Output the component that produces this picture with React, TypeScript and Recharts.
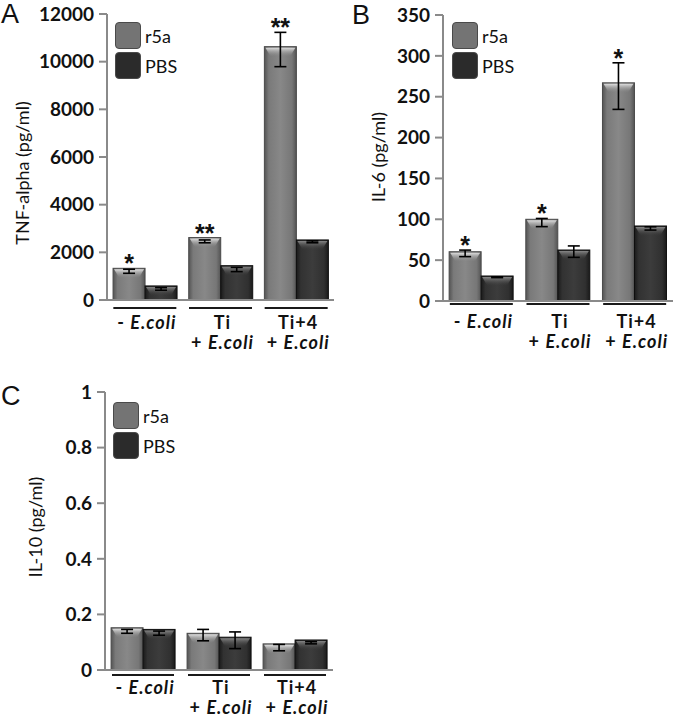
import React from 'react';
import { BarChart, Bar, XAxis, YAxis, ErrorBar, LabelList, Legend } from 'recharts';

/* ── Data ────────────────────────────────────────────────────────────────── */
const CATEGORIES = ['- E.coli', 'Ti\n+ E.coli', 'Ti+4\n+ E.coli'];
const SERIES_NAMES = ['r5a', 'PBS'];

// A: TNF-alpha (pg/ml)
const TNF_R5A = [1330, 2620, 10630];
const TNF_R5A_ERR = [[210, -40], [220, -100], [840, 600]];
const TNF_PBS = [590, 1440, 2520];
const TNF_PBS_ERR = [[180, -70], [250, -70], [120, -40]];
const TNF_SIG = ['*', '**', '**'];
const TNF_TICKS = [0, 2000, 4000, 6000, 8000, 10000, 12000];

// B: IL-6 (pg/ml)
const IL6_R5A = [60.3, 100, 267];
const IL6_R5A_ERR = [[6, 2], [9, 1], [32.5, 24.5]];
const IL6_PBS = [30.6, 62.4, 91.8];
const IL6_PBS_ERR = [[2, -1], [9, 5], [5, -1]];
const IL6_SIG = ['*', '*', '*'];
const IL6_TICKS = [0, 50, 100, 150, 200, 250, 300, 350];

// C: IL-10 (pg/ml)
const IL10_R5A = [0.152, 0.132, 0.094];
const IL10_R5A_ERR = [[0.02, -0.006], [0.027, 0.014], [0.025, -0.002]];
const IL10_PBS = [0.146, 0.118, 0.108];
const IL10_PBS_ERR = [[0.021, -0.006], [0.041, 0.019], [0.014, -0.006]];
const IL10_SIG = ['', '', ''];
const IL10_TICKS = [0, 0.2, 0.4, 0.6, 0.8, 1];

const buildRows = (r5a: number[], r5aErr: number[][], pbs: number[], pbsErr: number[][], sig: string[]) =>
    CATEGORIES.map((cat, i) => ({ cat, r5a: r5a[i], r5aErr: r5aErr[i], pbs: pbs[i], pbsErr: pbsErr[i], sig: sig[i] }));

/* ── Styling ─────────────────────────────────────────────────────────────── */
const FONT = 'Lato, "Open Sans", sans-serif';
const AXIS = '#8a8a8a';
const INK = '#111';
const R5A_COLOR = '#747474';
const PBS_COLOR = '#2b2b2b';

/* ── Bar shape with a bevelled top ───────────────────────────────────────── */
const makeShape = (kind: 'r5a' | 'pbs', pid: string) => (p: any) => {
    const { x, y, width, height } = p;
    if (!(height > 0)) return <g />;
    const bev = Math.min(height - 1, 10);
    const inset = width * 0.2;
    return (
        <g>
            <rect x={x} y={y} width={width} height={height}
                  fill={`url(#${pid}-${kind})`}
                  stroke={kind === 'r5a' ? '#4a4a4a' : '#0e0e0e'} strokeWidth={1} />
            <path d={`M${x + 1} ${y + 1} H${x + width - 1} L${x + width - inset} ${y + bev} H${x + inset} Z`}
                  fill={`url(#${pid}-${kind}-top)`} />
        </g>
    );
};

/* ── X tick: underline + two-line label ──────────────────────────────────── */
const CatTick = (props: any) => {
    const { x, y, payload, cfg } = props;
    const lines = String(payload.value).split('\n');
    const [uDy, d1, d2] = cfg.lineDy;
    return (
        <g>
            <line x1={x - cfg.half} x2={x + cfg.half} y1={y + uDy} y2={y + uDy} stroke="#1a1a1a" strokeWidth={2} />
            {lines.map((ln, i) => {
                const m = ln.match(/^(.*?)(E\.coli)$/);
                return (
                    <text key={i} x={x + 2} y={y + (i === 0 ? d1 : d2)} textAnchor="middle" dominantBaseline="central"
                          fontSize={18} fontWeight={700} letterSpacing={1} fill={INK} fontFamily={FONT}>
                        {m ? <>{m[1]}<tspan fontStyle="italic">{m[2]}</tspan></> : ln}
                    </text>
                );
            })}
        </g>
    );
};

/* ── Significance stars above r5a bars ───────────────────────────────────── */
const Star = (p: any) => {
    const vb = p.viewBox || p;
    const { x, y, width, height } = vb;
    if (!p.value) return null;
    const [sig, hi, val] = String(p.value).split('|');
    const pxPerUnit = height / Number(val);
    const top = y - Math.max(0, Number(hi)) * pxPerUnit;
    return (
        <text x={x + width / 2} y={top + 4} textAnchor="middle" fontSize={25} fontWeight={700}
              fill={INK} fontFamily='"Liberation Sans", Arial, sans-serif'>{sig}</text>
    );
};

/* ── Legend ──────────────────────────────────────────────────────────────── */
const LegendBox = (p: any) => {
    const payload = p.payload || [];
    const items = SERIES_NAMES.map((n, i) =>
        payload.find((it: any) => it.value === n) || { value: n, color: i ? PBS_COLOR : R5A_COLOR });
    return (
        <div style={{ display: 'flex', flexDirection: 'column', gap: 3 }}>
            {items.map((it: any) => (
                <div key={it.value} style={{ display: 'flex', alignItems: 'center', height: 27 }}>
                    <span style={{
                        width: 26, height: 27, borderRadius: 4, background: it.color,
                        border: '1px solid #4a4a4a', boxSizing: 'border-box', marginRight: 4, display: 'inline-block',
                    }} />
                    <span style={{ fontSize: 18, color: INK, fontFamily: FONT }}>{it.value}</span>
                </div>
            ))}
        </div>
    );
};

/* ── One panel ───────────────────────────────────────────────────────────── */
const Panel = ({ cfg, rows }: { cfg: any; rows: any[] }) => {
    const pid = `p${cfg.letter}`;
    const withKey = rows.map(r => ({ ...r, sigKey: r.sig ? `${r.sig}|${r.r5aErr[1]}|${r.r5a}` : '' }));
    return (
        <div style={{ position: 'absolute', left: cfg.left, top: cfg.top, width: cfg.width, height: cfg.height }}>
            <BarChart width={cfg.width} height={cfg.height} data={withKey} margin={cfg.margin}
                      barCategoryGap="8%" barGap={0}>
                <defs>
                    <linearGradient id={`${pid}-r5a`} x1="0" y1="0" x2="1" y2="0">
                        <stop offset="0%" stopColor="#545454" />
                        <stop offset="14%" stopColor="#7a7a7a" />
                        <stop offset="50%" stopColor="#888888" />
                        <stop offset="86%" stopColor="#777777" />
                        <stop offset="100%" stopColor="#545454" />
                    </linearGradient>
                    <linearGradient id={`${pid}-pbs`} x1="0" y1="0" x2="1" y2="0">
                        <stop offset="0%" stopColor="#1a1a1a" />
                        <stop offset="14%" stopColor="#323232" />
                        <stop offset="50%" stopColor="#3c3c3c" />
                        <stop offset="86%" stopColor="#303030" />
                        <stop offset="100%" stopColor="#1a1a1a" />
                    </linearGradient>
                    <linearGradient id={`${pid}-r5a-top`} x1="0" y1="0" x2="0" y2="1">
                        <stop offset="0%" stopColor="#e4e4e4" stopOpacity={0.95} />
                        <stop offset="100%" stopColor="#888888" stopOpacity={0} />
                    </linearGradient>
                    <linearGradient id={`${pid}-pbs-top`} x1="0" y1="0" x2="0" y2="1">
                        <stop offset="0%" stopColor="#909090" stopOpacity={0.9} />
                        <stop offset="100%" stopColor="#3c3c3c" stopOpacity={0} />
                    </linearGradient>
                </defs>

                <XAxis xAxisId="b" dataKey="cat" interval={0} height={cfg.xHeight}
                       tickLine={false} tickSize={0} tickMargin={0}
                       axisLine={{ stroke: AXIS, strokeWidth: 2 }}
                       tick={(tp: any) => <CatTick {...tp} cfg={cfg} />} />
                <XAxis xAxisId="t" orientation="top" dataKey="cat" height={0} tick={false} tickLine={false}
                       axisLine={{ stroke: AXIS, strokeWidth: 2 }} />
                <YAxis yAxisId="l" domain={cfg.domain} ticks={cfg.ticks} width={cfg.yWidth} interval={0}
                       tickSize={8} tickMargin={5}
                       axisLine={{ stroke: AXIS, strokeWidth: 2 }} tickLine={{ stroke: AXIS, strokeWidth: 2 }}
                       tick={{ fill: INK, fontSize: 19, fontFamily: FONT, fontWeight: 700 }}
                       label={{
                           content: () => (
                               <text x={cfg.yLabelX} y={cfg.yLabelY} transform={`rotate(-90 ${cfg.yLabelX} ${cfg.yLabelY})`}
                                     textAnchor="middle" dominantBaseline="central" fontSize={18} fill={INK} fontFamily={FONT}>
                                   {cfg.yLabel}
                               </text>
                           ),
                       }} />
                <YAxis yAxisId="r" orientation="right" width={0} tick={false} tickLine={false}
                       axisLine={{ stroke: AXIS, strokeWidth: 2 }} />

                <Legend layout="vertical" align="center" verticalAlign="middle"
                        wrapperStyle={{ left: cfg.legendX, top: cfg.legendY, width: 90, height: 60 }}
                        content={(lp: any) => <LegendBox {...lp} />} />

                <Bar xAxisId="b" yAxisId="l" dataKey="r5a" name="r5a" fill={R5A_COLOR}
                     shape={makeShape('r5a', pid)} isAnimationActive={false}>
                    <ErrorBar dataKey="r5aErr" width={6} stroke="#000" strokeWidth={1.6} direction="y" isAnimationActive={false} />
                    <LabelList dataKey="sigKey" content={(lp: any) => <Star {...lp} />} />
                </Bar>
                <Bar xAxisId="b" yAxisId="l" dataKey="pbs" name="PBS" fill={PBS_COLOR}
                     shape={makeShape('pbs', pid)} isAnimationActive={false}>
                    <ErrorBar dataKey="pbsErr" width={6} stroke="#000" strokeWidth={1.6} direction="y" isAnimationActive={false} />
                </Bar>
            </BarChart>
            <div style={{
                position: 'absolute', left: cfg.letterX, top: cfg.letterY, fontSize: 27, lineHeight: 1,
                fontFamily: '"Liberation Sans", Arial, sans-serif', color: INK,
            }}>{cfg.letter}</div>
        </div>
    );
};

/* ── Panel layouts ───────────────────────────────────────────────────────── */
const PANEL_A = {
    letter: 'A', left: 0, top: 0, width: 340, height: 360,
    margin: { top: 14, right: 6, bottom: 10, left: 0 }, yWidth: 107, xHeight: 50,
    domain: [0, 12000], ticks: TNF_TICKS, yLabel: 'TNF-alpha (pg/ml)', yLabelX: 22, yLabelY: 173,
    legendX: 115, legendY: 22, lineDy: [8, 22, 42], half: 31.5, letterX: 1, letterY: 1,
};
const PANEL_B = {
    letter: 'B', left: 340, top: 0, width: 340, height: 360,
    margin: { top: 15, right: 7, bottom: 9, left: 0 }, yWidth: 103, xHeight: 50,
    domain: [0, 350], ticks: IL6_TICKS, yLabel: 'IL-6 (pg/ml)', yLabelX: 38, yLabelY: 157,
    legendX: 112, legendY: 22, lineDy: [3, 20, 40], half: 31.5, letterX: 12, letterY: 2,
};
const PANEL_C = {
    letter: 'C', left: 0, top: 360, width: 340, height: 359,
    margin: { top: 32, right: 7, bottom: 9, left: 0 }, yWidth: 105, xHeight: 40,
    domain: [0, 1], ticks: IL10_TICKS, yLabel: 'IL-10 (pg/ml)', yLabelX: 35, yLabelY: 167,
    legendX: 113, legendY: 42, lineDy: [5, 17, 37], half: 31, letterX: 1, letterY: 23,
};

export default function App() {
    return (
        <div style={{ position: 'absolute', left: 0, top: 0, width: 680, height: 719, background: '#fff', overflow: 'hidden' }}>
            <Panel cfg={PANEL_A} rows={buildRows(TNF_R5A, TNF_R5A_ERR, TNF_PBS, TNF_PBS_ERR, TNF_SIG)} />
            <Panel cfg={PANEL_B} rows={buildRows(IL6_R5A, IL6_R5A_ERR, IL6_PBS, IL6_PBS_ERR, IL6_SIG)} />
            <Panel cfg={PANEL_C} rows={buildRows(IL10_R5A, IL10_R5A_ERR, IL10_PBS, IL10_PBS_ERR, IL10_SIG)} />
        </div>
    );
}
